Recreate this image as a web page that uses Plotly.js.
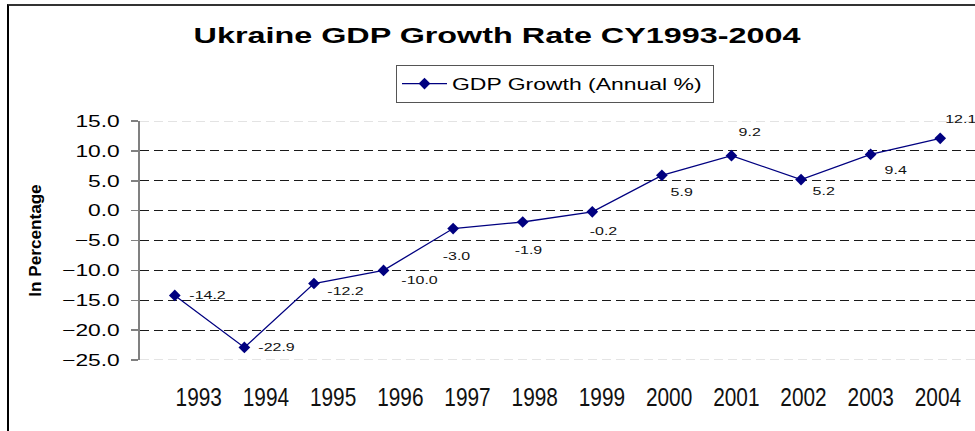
<!DOCTYPE html>
<html>
<head>
<meta charset="utf-8">
<script src="https://cdn.plot.ly/plotly-3.0.1.min.js"></script>
<style>
  html, body { margin: 0; padding: 0; background: #ffffff; overflow: hidden; }
  #frame { position: absolute; left: 7px; top: 4px; width: 1100px; height: 600px;
           border-left: 2px solid #000; border-top: 2px solid #333; box-sizing: border-box; }
  #chart { position: absolute; left: 0; top: 0; width: 975px; height: 431px; }
</style>
</head>
<body>
<div id="frame"></div>
<div id="chart"></div>
<script>
// ---- data ----
const years = ['1993','1994','1995','1996','1997','1998','1999','2000','2001','2002','2003','2004'];
const gdpGrowth = [-14.2, -22.9, -12.2, -10.0, -3.0, -1.9, -0.2, 5.9, 9.2, 5.2, 9.4, 12.1];
const seriesName = 'GDP Growth (Annual %)';
const chartTitle = 'Ukraine GDP Growth Rate CY1993-2004';
const yTitle = 'In Percentage';
const yTicks = [-25, -20, -15, -10, -5, 0, 5, 10, 15];

// ---- label placement (style only, px offsets of each data label) ----
const labelDx = [33, 32, 32, 36, 3, 6, 11, 20, 18, 22, 25, 20];
const labelDy = [0, 0, 7, 10, 27, 28, 19, 17, -24, 11, 16, -19];
// the year labels in the reference sit on a slightly different spacing than the points
const yearLabelRange = [-0.8735, 11.552];

const yRange = [yTicks[0], yTicks[yTicks.length - 1]];
const innerTicks = yTicks.slice(1, -1);
const yearIdx = years.map((_, i) => i);
const navy = '#000080';
const dash = '9px,5px';
const FONT = 'Liberation Sans, Arial, sans-serif';

const trace = {
  x: years,
  y: gdpGrowth,
  name: seriesName,
  type: 'scatter',
  mode: 'lines+markers',
  line: { color: navy, width: 1.3 },
  marker: { color: navy, symbol: 'diamond', size: 9 },
  hoverinfo: 'x+y',
  showlegend: true
};
// empty helper trace so the overlaid grid / label axes get drawn (no marks)
const axisHelper = { x: [], y: [], xaxis: 'x2', yaxis: 'y2', type: 'scatter', mode: 'lines', showlegend: false, hoverinfo: 'skip' };

const annotations = years.map((yr, i) => ({
  x: i,
  y: gdpGrowth[i],
  xref: 'x', yref: 'y',
  text: gdpGrowth[i].toFixed(1),
  showarrow: false,
  xanchor: 'center', yanchor: 'middle',
  xshift: labelDx[i], yshift: -labelDy[i],
  font: { family: FONT, size: 11, color: '#111' }
}));

// light-grey dashed boundary lines at the top and bottom of the value range
const edgeShapes = yRange.map(v => ({
  type: 'line', xref: 'paper', x0: 0, x1: 1, yref: 'y', y0: v, y1: v,
  line: { color: '#c8c8c8', width: 1, dash: dash }, layer: 'below'
}));

const layout = {
  width: 975, height: 431,
  margin: { l: 140, r: 0, t: 121, b: 71 },
  paper_bgcolor: 'rgba(0,0,0,0)',
  plot_bgcolor: 'rgba(0,0,0,0)',
  title: {
    text: chartTitle,
    font: { family: FONT, size: 22, weight: 'bold', color: '#000' },
    xref: 'container', yref: 'container',
    x: 497 / 975, xanchor: 'center',
    y: 1 - 35 / 431, yanchor: 'middle'
  },
  showlegend: true,
  legend: {
    orientation: 'h',
    x: (396 - 140) / 835, xanchor: 'left',
    y: (360 - 65) / 239, yanchor: 'top',
    bgcolor: '#ffffff', bordercolor: '#555555', borderwidth: 1,
    font: { family: FONT, size: 17, color: '#000' },
    itemwidth: 45,
    entrywidth: 256
  },
  xaxis: {
    type: 'category',
    range: [-0.5, years.length - 0.5],
    showgrid: false, zeroline: false, showline: false,
    ticks: '', showticklabels: false,
    fixedrange: true
  },
  xaxis2: {
    overlaying: 'x', anchor: 'y', side: 'bottom',
    range: yearLabelRange,
    tickmode: 'array', tickvals: yearIdx, ticktext: years,
    showgrid: false, zeroline: false, showline: false,
    ticks: '',
    ticklabelstandoff: 19,
    tickfont: { family: FONT, size: 26, color: '#111' },
    fixedrange: true
  },
  yaxis: {
    range: yRange,
    tickmode: 'array', tickvals: yTicks,
    tickformat: '.1f',
    showgrid: false, zeroline: false,
    showline: true, linecolor: '#808080', linewidth: 2,
    ticks: 'outside', ticklen: 7, tickcolor: '#808080', tickwidth: 1.5,
    ticklabelstandoff: 8,
    tickfont: { family: FONT, size: 16.5, color: '#000' },
    title: {
      text: yTitle,
      font: { family: FONT, size: 16, weight: 'bold', color: '#000' },
      standoff: 32
    },
    fixedrange: true
  },
  yaxis2: {
    overlaying: 'y', anchor: 'x', side: 'left',
    range: yRange,
    tickmode: 'array', tickvals: innerTicks,
    showticklabels: false, ticks: '', showline: false, zeroline: false,
    showgrid: true, gridcolor: '#1a1a1a', gridwidth: 1, griddash: dash,
    fixedrange: true
  },
  shapes: edgeShapes,
  annotations: annotations
};

// horizontal glyph scaling of text (the reference picture is stretched sideways)
function stretchText(selector, factor) {
  document.querySelectorAll(selector).forEach(t => {
    const w = t.getComputedTextLength();
    if (w > 0) {
      t.setAttribute('textLength', (w * factor).toFixed(1));
      t.setAttribute('lengthAdjust', 'spacingAndGlyphs');
    }
  });
}

Plotly.newPlot('chart', [axisHelper, trace], layout, { displayModeBar: false, staticPlot: true })
  .then(() => {
    stretchText('#chart .gtitle', 1.47);
    stretchText('#chart .legendtext', 1.35);
    stretchText('#chart .ytick text', 1.38);
    stretchText('#chart .annotation-text', 1.45);
    stretchText('#chart .x2tick text', 0.8);
    stretchText('#chart .xtick text', 0.8);
    stretchText('#chart .ytitle', 1.07);
  });
</script>
</body>
</html>
